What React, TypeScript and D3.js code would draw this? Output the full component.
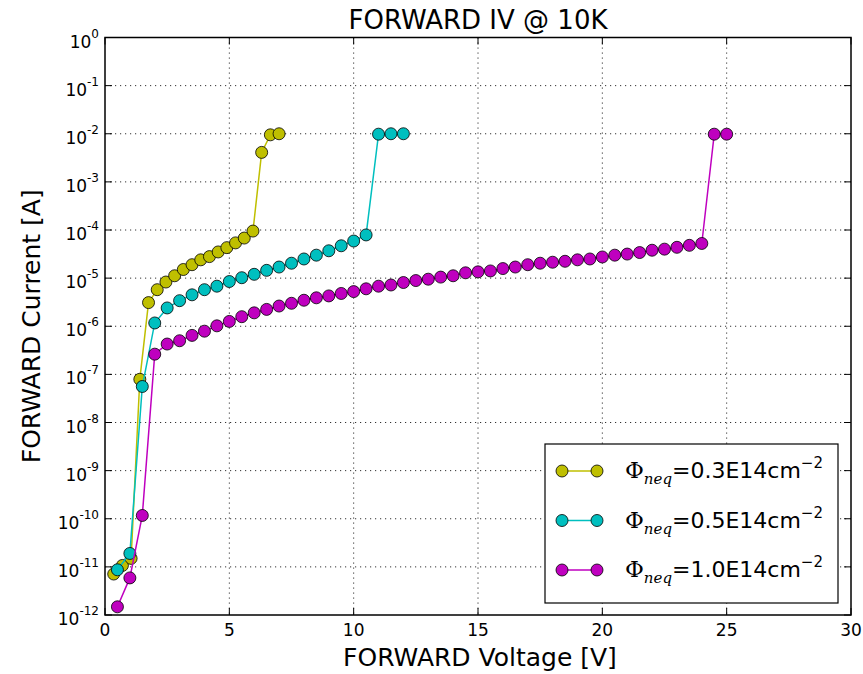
import React from "react";
import * as d3 from "d3";

// Forward bias I-V sweeps at 10 K for three fluences
const voltage03 = [0.35, 0.7, 1.05, 1.4, 1.75, 2.1, 2.45, 2.8, 3.15, 3.5, 3.85, 4.2, 4.55, 4.9, 5.25, 5.6, 5.95, 6.3, 6.65, 7.0];
const current03 = [7.1e-12, 1.07e-11, 1.5e-11, 7.9e-8, 3.1e-6, 5.75e-6, 8.3e-6, 1.12e-5, 1.51e-5, 1.9e-5, 2.4e-5, 2.8e-5, 3.5e-5, 4.3e-5, 5.4e-5, 6.8e-5, 9.5e-5, 4.1e-3, 9.5e-3, 1e-2];

const voltage05 = [0.5, 1.0, 1.5, 2.0, 2.5, 3.0, 3.5, 4.0, 4.5, 5.0, 5.5, 6.0, 6.5, 7.0, 7.5, 8.0, 8.5, 9.0, 9.5, 10.0, 10.5, 11.0, 11.5, 12.0];
const current05 = [8.7e-12, 1.9e-11, 5.6e-8, 1.17e-6, 2.4e-6, 3.4e-6, 4.5e-6, 5.75e-6, 6.8e-6, 8.5e-6, 1.02e-5, 1.2e-5, 1.45e-5, 1.7e-5, 2.04e-5, 2.5e-5, 3.0e-5, 3.7e-5, 4.7e-5, 5.9e-5, 7.9e-5, 9.8e-3, 1e-2, 1e-2];

const voltage10 = [0.5, 1.0, 1.5, 2.0, 2.5, 3.0, 3.5, 4.0, 4.5, 5.0, 5.5, 6.0, 6.5, 7.0, 7.5, 8.0, 8.5, 9.0, 9.5, 10.0, 10.5, 11.0, 11.5, 12.0, 12.5, 13.0, 13.5, 14.0, 14.5, 15.0, 15.5, 16.0, 16.5, 17.0, 17.5, 18.0, 18.5, 19.0, 19.5, 20.0, 20.5, 21.0, 21.5, 22.0, 22.5, 23.0, 23.5, 24.0, 24.5, 25.0];
const current10 = [1.48e-12, 5.9e-12, 1.17e-10, 2.63e-7, 4.27e-7, 5.0e-7, 6.46e-7, 7.9e-7, 1.02e-6, 1.26e-6, 1.58e-6, 1.9e-6, 2.24e-6, 2.63e-6, 3.0e-6, 3.47e-6, 3.9e-6, 4.27e-6, 4.8e-6, 5.25e-6, 6.0e-6, 6.8e-6, 7.2e-6, 8.1e-6, 8.9e-6, 9.5e-6, 1.05e-5, 1.12e-5, 1.29e-5, 1.35e-5, 1.41e-5, 1.58e-5, 1.7e-5, 1.9e-5, 2.04e-5, 2.14e-5, 2.24e-5, 2.4e-5, 2.5e-5, 2.75e-5, 3.0e-5, 3.16e-5, 3.4e-5, 3.8e-5, 4.0e-5, 4.37e-5, 4.8e-5, 5.25e-5, 9.8e-3, 9.8e-3];

const fluenceLabels = ["0.3E14", "0.5E14", "1.0E14"];
const seriesColors = ["#bfbf00", "#00bfbf", "#bf00bf"];

const xTicks = [0, 5, 10, 15, 20, 25, 30];
const yExponents = [0, -1, -2, -3, -4, -5, -6, -7, -8, -9, -10, -11, -12];

const series = [
  { label: fluenceLabels[0], color: seriesColors[0], v: voltage03, i: current03 },
  { label: fluenceLabels[1], color: seriesColors[1], v: voltage05, i: current05 },
  { label: fluenceLabels[2], color: seriesColors[2], v: voltage10, i: current10 },
];

const W = 863;
const H = 674;
const left = 105;
const right = 851;
const top = 37.5;
const bottom = 615;

const sans = "'DejaVu Sans', sans-serif";
const serif = "'DejaVu Serif', serif";

export default function App() {
  const x = d3.scaleLinear().domain([0, 30]).range([left, right]);
  const y = d3.scaleLog().domain([1e-12, 1]).range([bottom, top]);

  const line = d3
    .line<[number, number]>()
    .x((d) => x(d[0]))
    .y((d) => y(d[1]));

  const tickLen = 7;
  const legendX = 545;
  const legendY = 444;
  const legendW = 293;
  const legendH = 159;

  return (
    <svg
      width={W}
      height={H}
      style={{ position: "absolute", left: 0, top: 0, background: "#fff" }}
    >
      <rect x={0} y={0} width={W} height={H} fill="#fff" />

      {/* grid */}
      <g stroke="#333" strokeWidth={1} strokeDasharray="1.2,3.8">
        {xTicks.slice(1, -1).map((t) => (
          <line key={"gx" + t} x1={x(t)} x2={x(t)} y1={top} y2={bottom} />
        ))}
        {yExponents.slice(1, -1).map((e) => (
          <line key={"gy" + e} x1={left} x2={right} y1={y(Math.pow(10, e))} y2={y(Math.pow(10, e))} />
        ))}
      </g>

      {/* data */}
      {series.map((s) => {
        const pts = s.v.map((v, k) => [v, s.i[k]] as [number, number]);
        return (
          <g key={s.label}>
            <path d={line(pts) || ""} fill="none" stroke={s.color} strokeWidth={1.5} />
            {pts.map((p, k) => (
              <circle
                key={k}
                cx={x(p[0])}
                cy={y(p[1])}
                r={6}
                fill={s.color}
                stroke="#000"
                strokeOpacity={0.8}
                strokeWidth={1}
              />
            ))}
          </g>
        );
      })}

      {/* ticks */}
      <g stroke="#000" strokeWidth={1}>
        {xTicks.map((t) => (
          <g key={"tx" + t}>
            <line x1={x(t)} x2={x(t)} y1={bottom} y2={bottom - tickLen} />
            <line x1={x(t)} x2={x(t)} y1={top} y2={top + tickLen} />
          </g>
        ))}
        {yExponents.map((e) => (
          <g key={"ty" + e}>
            <line x1={left} x2={left + tickLen} y1={y(Math.pow(10, e))} y2={y(Math.pow(10, e))} />
            <line x1={right} x2={right - tickLen} y1={y(Math.pow(10, e))} y2={y(Math.pow(10, e))} />
          </g>
        ))}
      </g>

      {/* frame */}
      <rect x={left} y={top} width={right - left} height={bottom - top} fill="none" stroke="#000" strokeWidth={1.5} />

      {/* x tick labels */}
      <g fontFamily={sans} fontSize={17} fill="#000" textAnchor="middle">
        {xTicks.map((t) => (
          <text key={"lx" + t} x={x(t)} y={bottom + 21}>
            {t}
          </text>
        ))}
      </g>

      {/* y tick labels */}
      <g fontFamily={sans} fill="#000" textAnchor="end">
        {yExponents.map((e) => (
          <text key={"ly" + e} x={left - 6} y={y(Math.pow(10, e)) + 10} fontSize={17}>
            <tspan>10</tspan>
            <tspan dy={-10} fontSize={12}>
              {e < 0 ? "-" + Math.abs(e) : String(e)}
            </tspan>
          </text>
        ))}
      </g>

      {/* title and axis labels */}
      <text x={(left + right) / 2} y={29} textAnchor="middle" fontFamily={sans} fontSize={26} fill="#000">
        FORWARD IV @ 10K
      </text>
      <text x={480} y={666} textAnchor="middle" fontFamily={sans} fontSize={25} fill="#000">
        FORWARD Voltage [V]
      </text>
      <text
        transform={`translate(40, ${(top + bottom) / 2}) rotate(-90)`}
        textAnchor="middle"
        fontFamily={sans}
        fontSize={25}
        fill="#000"
      >
        FORWARD Current [A]
      </text>

      {/* legend */}
      <rect x={legendX} y={legendY} width={legendW} height={legendH} fill="#fff" stroke="#000" strokeWidth={1.2} />
      {series.map((s, k) => {
        const ly = 471 + k * 49.5;
        return (
          <g key={"lg" + s.label}>
            <line x1={562} x2={597} y1={ly} y2={ly} stroke={s.color} strokeWidth={1.5} />
            <circle cx={562} cy={ly} r={6} fill={s.color} stroke="#000" strokeOpacity={0.8} strokeWidth={1} />
            <circle cx={597} cy={ly} r={6} fill={s.color} stroke="#000" strokeOpacity={0.8} strokeWidth={1} />
            <text x={625} y={ly + 7} fontSize={22} fill="#000" fontFamily={sans}>
              <tspan fontFamily={serif} fontSize={23}>Φ</tspan>
              <tspan fontFamily={serif} fontStyle="italic" fontSize={15} dy={6}>neq</tspan>
              <tspan fontFamily={serif} dy={-6}>=</tspan>
              <tspan>{s.label}cm</tspan>
              <tspan fontSize={15} dy={-10}>{"\u22122"}</tspan>
            </text>
          </g>
        );
      })}
    </svg>
  );
}
